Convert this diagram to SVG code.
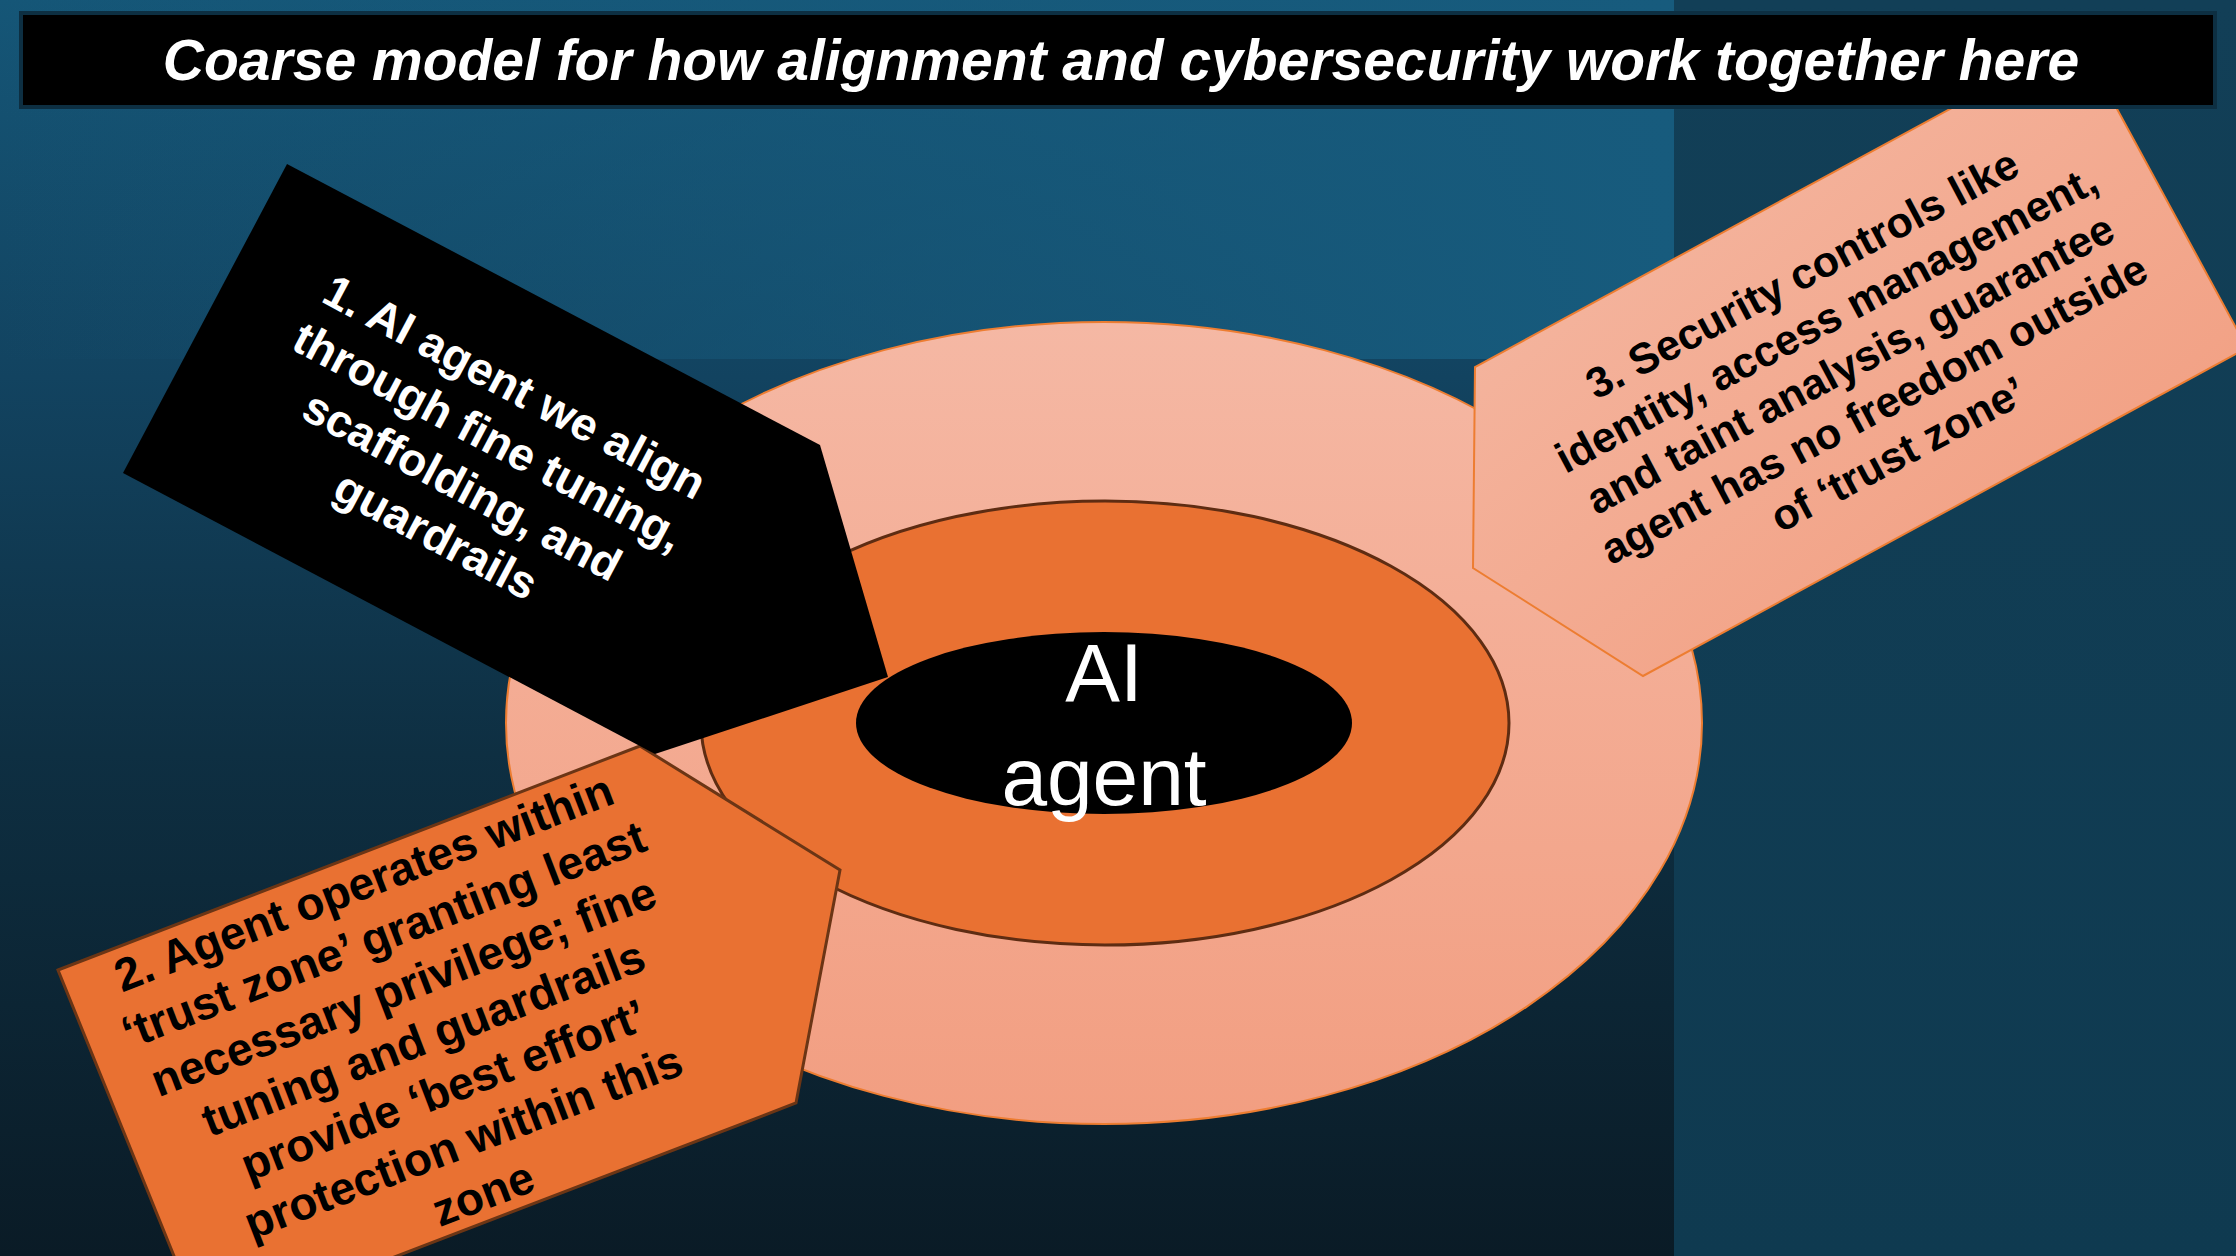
<svg xmlns="http://www.w3.org/2000/svg" width="2236" height="1256" viewBox="0 0 2236 1256">
  <defs>
    <linearGradient id="bgLeft" x1="0" y1="0" x2="0" y2="1">
      <stop offset="0" stop-color="#155677"/>
      <stop offset="0.3" stop-color="#124360"/>
      <stop offset="0.6" stop-color="#0e2f42"/>
      <stop offset="1" stop-color="#0a1b26"/>
    </linearGradient>
    <linearGradient id="bgTop" x1="0" y1="0" x2="1" y2="0">
      <stop offset="0" stop-color="#175b7d" stop-opacity="0"/>
      <stop offset="0.55" stop-color="#175b7d" stop-opacity="0.6"/>
      <stop offset="1" stop-color="#175b7d" stop-opacity="1"/>
    </linearGradient>
    <linearGradient id="bgTopV" x1="0" y1="0" x2="0" y2="1">
      <stop offset="0" stop-color="#fff" stop-opacity="1"/>
      <stop offset="1" stop-color="#fff" stop-opacity="0.85"/>
    </linearGradient>
    <linearGradient id="bgRight" x1="0" y1="0" x2="0" y2="1">
      <stop offset="0" stop-color="#123f57"/>
      <stop offset="1" stop-color="#0f3a50"/>
    </linearGradient>
    <linearGradient id="salmon" x1="0" y1="0" x2="0" y2="1">
      <stop offset="0" stop-color="#f5b8a4"/>
      <stop offset="1" stop-color="#f29e81"/>
    </linearGradient>
    <linearGradient id="salmon3" x1="0" y1="0" x2="1" y2="1">
      <stop offset="0" stop-color="#f5bca8"/>
      <stop offset="1" stop-color="#f1997a"/>
    </linearGradient>
    <style>
      .bold { font-family: "Liberation Sans", Arial, sans-serif; font-weight: bold; text-anchor: middle; }
      .w { fill: #ffffff; }
      .k { fill: #000000; }
      .title { font-family: "Liberation Sans", Arial, sans-serif; font-weight: bold; font-style: italic; font-size: 57px; fill: #ffffff; text-anchor: middle; }
      .center { font-family: "Liberation Sans", Arial, sans-serif; font-size: 82px; fill: #ffffff; text-anchor: middle; }
    </style>
  </defs>

  <!-- background -->
  <g id="background">
    <rect x="0" y="0" width="1674" height="1256" fill="url(#bgLeft)"/>
    <rect x="0" y="0" width="1674" height="359" fill="url(#bgTop)"/>
    <rect x="1674" y="0" width="562" height="1256" fill="url(#bgRight)"/>
  </g>

  <!-- central rings -->
  <g id="trust-zone-outer">
    <ellipse cx="1104" cy="723" rx="598" ry="401" fill="url(#salmon)" stroke="#ed7d31" stroke-width="2"/>
  </g>
  <g id="trust-zone-inner">
    <ellipse cx="1105" cy="723" rx="404" ry="222" fill="#e97132" stroke="#5e2c12" stroke-width="3"/>
  </g>
  <g id="ai-agent">
    <ellipse cx="1104" cy="723" rx="248" ry="91" fill="#000000"/>
    <text class="center" x="1104" y="701">AI</text>
    <text class="center" x="1104" y="805">agent</text>
  </g>

  <!-- callout 3 -->
  <g id="callout-3">
    <polygon points="2079,39 2247,348 1643,676 1473,568 1475,367" fill="url(#salmon3)" stroke="#ed7d31" stroke-width="2"/>
    <g transform="translate(1857,377) rotate(-28)" class="bold k" font-size="43">
      <text x="0" y="-102">3. Security controls like</text>
      <text x="0" y="-51">identity, access management,</text>
      <text x="0" y="0">and taint analysis, guarantee</text>
      <text x="0" y="51">agent has no freedom outside</text>
      <text x="0" y="102">of ‘trust zone’</text>
    </g>
  </g>

  <!-- callout 2 -->
  <g id="callout-2">
    <polygon points="58,970 640,746 840,870 796,1103 204,1330" fill="#e97132" stroke="#6b3515" stroke-width="3"/>
    <g transform="translate(429,1053) rotate(-21)" class="bold k" font-size="46">
      <text x="0" y="-166.5">2. Agent operates within</text>
      <text x="0" y="-111">‘trust zone’ granting least</text>
      <text x="0" y="-55.5">necessary privilege; fine</text>
      <text x="0" y="0">tuning and guardrails</text>
      <text x="0" y="55.5">provide ‘best effort’</text>
      <text x="0" y="111">protection within this</text>
      <text x="0" y="166.5">zone</text>
    </g>
  </g>

  <!-- callout 1 -->
  <g id="callout-1">
    <polygon points="287,164 820,445 888,677 655,754 123,473" fill="#000000"/>
    <g transform="translate(468,475) rotate(28)" class="bold w" font-size="46">
      <text x="0" y="-84">1. AI agent we align</text>
      <text x="0" y="-28">through fine tuning,</text>
      <text x="0" y="28">scaffolding, and</text>
      <text x="0" y="84">guardrails</text>
    </g>
  </g>

  <!-- title -->
  <g id="title">
    <rect x="21" y="13" width="2194" height="94" fill="#000000" stroke="#0d2f42" stroke-width="4"/>
    <text class="title" x="1121" y="80">Coarse model for how alignment and cybersecurity work together here</text>
  </g>

  <g id="connectors"/>
</svg>
